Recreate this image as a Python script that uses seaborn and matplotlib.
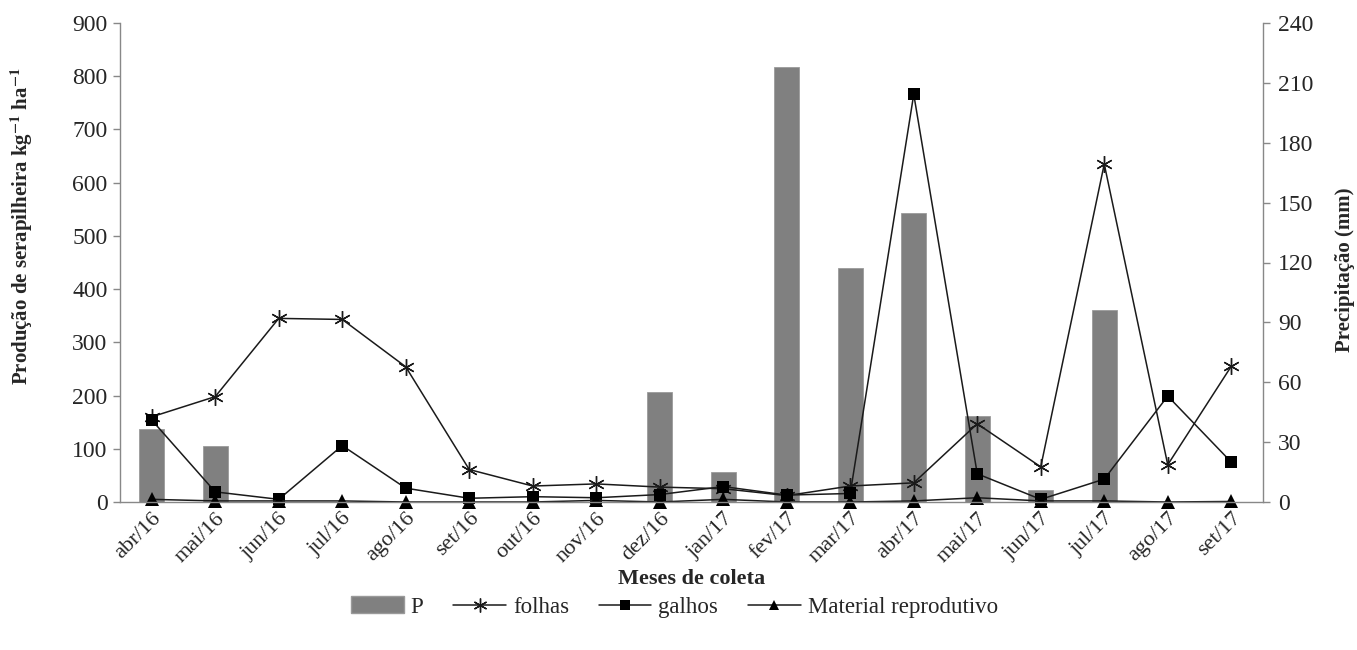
import numpy as np
import pandas as pd
import matplotlib
matplotlib.use("Agg")
import matplotlib.pyplot as plt
import seaborn as sns
from matplotlib.lines import Line2D
from matplotlib.patches import Patch

months = ["abr/16", "mai/16", "jun/16", "jul/16", "ago/16", "set/16", "out/16", "nov/16", "dez/16",
          "jan/17", "fev/17", "mar/17", "abr/17", "mai/17", "jun/17", "jul/17", "ago/17", "set/17"]
precip = [36.5, 28, 0, 0, 0, 0, 0, 0, 55, 15, 218, 117, 145, 43, 6, 96, 0, 0]
folhas = [160, 198, 345, 343, 254, 61, 30, 34, 28, 25, 12, 30, 36, 147, 66, 635, 70, 255]
galhos = [154, 19, 5, 106, 26, 7, 10, 8, 14, 29, 13, 16, 766, 53, 5, 43, 199, 75]
reprod = [5, 2, 2, 2, 0, 0, 0, 3, 0, 5, 0, 0, 2, 8, 2, 2, 0, 1]

left_ticks = list(range(0, 901, 100))
right_ticks = list(range(0, 241, 30))

sns.set_theme(style="white")
plt.rcParams['font.family'] = ['Liberation Serif', 'DejaVu Serif']
plt.rcParams['mathtext.fontset'] = 'stix'
FS = 17
LFS = 15
plt.rcParams['font.size'] = FS

W, H = 1357, 650
fig = plt.figure(figsize=(W / 100, H / 100), dpi=100)
ax = fig.add_axes([120 / W, 1 - 502 / H, (1263 - 120) / W, (502 - 23) / H])
ax2 = ax.twinx()

pos = np.arange(len(months))
df = pd.DataFrame({"mes": months, "pos": pos, "P": precip, "folhas": folhas,
                   "galhos": galhos, "reprod": reprod})

# bars on the right (precipitation) axis
sns.barplot(data=df, x="mes", y="P", ax=ax2, color="#808080", saturation=1, width=0.4,
            edgecolor="#9a9a9a", linewidth=0.6)

LC = "#1a1a1a"
star = (6, 2, 0)
sns.lineplot(data=df, x="pos", y="folhas", ax=ax, color=LC, lw=1.1, marker=star,
             markersize=12, markeredgewidth=1.0, markeredgecolor=LC, clip_on=False)
sns.lineplot(data=df, x="pos", y="galhos", ax=ax, color=LC, lw=1.1, marker="s",
             markersize=9, markeredgewidth=0, markerfacecolor="black", clip_on=False)
sns.lineplot(data=df, x="pos", y="reprod", ax=ax, color=LC, lw=1.1, marker="^",
             markersize=10, markeredgewidth=0, markerfacecolor="black", clip_on=False)

ax.set_zorder(ax2.get_zorder() + 1)
ax.patch.set_visible(False)

ax.set_xlim(-0.5, len(months) - 0.5)
ax.set_ylim(0, 900)
ax2.set_ylim(0, 240)
ax.set_yticks(left_ticks)
ax2.set_yticks(right_ticks)

ax.set_xticks(pos)
ax.set_xticklabels(months, rotation=45, ha="right", rotation_mode="anchor")
ax.set_xticks(np.arange(-0.5, len(months), 1), minor=True)
ax.tick_params(axis="x", which="major", length=0, pad=5, labelsize=16)
ax.tick_params(axis="x", which="minor", length=5, color="#888888", width=1, direction="out")
ax.tick_params(axis="y", length=5, color="#888888", width=1, direction="out", labelsize=FS, pad=4)
ax2.tick_params(axis="y", length=5, color="#888888", width=1, direction="out", labelsize=FS, pad=6)

for a in (ax, ax2):
    a.spines["top"].set_visible(False)
    for s in ["left", "right", "bottom"]:
        a.spines[s].set_color("#888888")
        a.spines[s].set_linewidth(1)
    a.grid(False)
ax.spines["right"].set_visible(False)
ax2.spines["left"].set_visible(False)
ax2.spines["bottom"].set_visible(False)

ax.set_xlabel("Meses de coleta", fontweight="bold", fontsize=LFS + 1)
ax.xaxis.set_label_coords(0.5, -0.14)
ax.set_ylabel("Produção de serapilheira kg$^{\\mathbf{-1}}$ ha$^{\\mathbf{-1}}$",
              fontweight="bold", fontsize=LFS)
ax.yaxis.set_label_coords(-0.0744, 0.575)
ax2.set_ylabel("Precipitação (mm)", fontweight="bold", fontsize=LFS)
ax2.yaxis.set_label_coords(1.063, 0.484)

handles = [Patch(facecolor="#808080", edgecolor="#9a9a9a"),
           Line2D([], [], color=LC, lw=1.1, marker=star, markersize=10, markeredgecolor=LC),
           Line2D([], [], color=LC, lw=1.1, marker="s", markersize=7, markerfacecolor="black", markeredgewidth=0),
           Line2D([], [], color=LC, lw=1.1, marker="^", markersize=7, markerfacecolor="black", markeredgewidth=0)]
fig.legend(handles, ["P", "folhas", "galhos", "Material reprodutivo"], loc="center",
           bbox_to_anchor=(0.497, 1 - 607 / H), ncol=4, frameon=False, fontsize=16.5,
           handlelength=2.3, columnspacing=1.3, handletextpad=0.3)

fig.savefig("out.png", dpi=100)
